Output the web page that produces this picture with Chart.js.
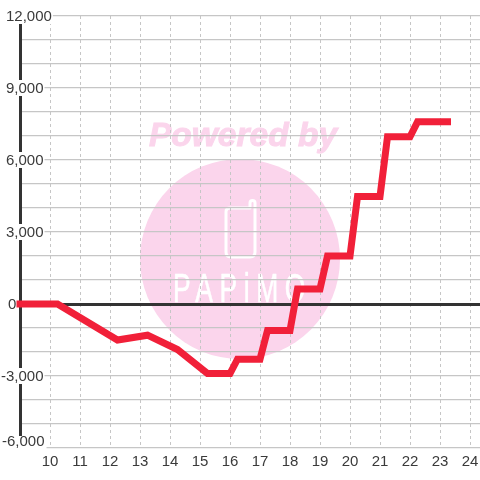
<!DOCTYPE html>
<html>
<head>
<meta charset="utf-8">
<style>html,body{margin:0;padding:0;background:#fff}#w{width:480px;height:480px}</style>
<script src="https://cdn.jsdelivr.net/npm/chart.js@4"></script>
</head>
<body>
<div id="w"><canvas id="c" width="480" height="480"></canvas></div>
<script>
const hours = [9, 10.25, 12.25, 13.25, 14.25, 15.25, 16, 16.25, 17, 17.25, 18, 18.25, 19, 19.25, 20, 20.25, 21, 21.25, 22, 22.25, 23.25];
const balance = [0, 0, -1500, -1300, -1900, -2900, -2900, -2300, -2300, -1100, -1100, 630, 630, 2000, 2000, 4480, 4480, 6970, 6970, 7590, 7590];
const labelledTicks = [12000, 9000, 6000, 3000, 0, -3000, -6000];
const watermarkTop = 'Powered by';
const watermarkBrand = 'PAPiMO';

const INK = '#3a3a3a', GRID = '#c6c6c6', RED = '#f12039', PINK = '#fbd5ec';
const FONT = {family: '"Liberation Sans", Arial, sans-serif', size: 15};

const watermark = {
  id: 'watermark',
  beforeDraw(chart) {
    const g = chart.ctx;
    g.save();
    g.fillStyle = '#ffffff';
    g.fillRect(0, 0, 480, 480);
    g.fillStyle = PINK;
    g.beginPath();
    g.arc(240, 259, 100, 0, Math.PI * 2);
    g.fill();
    g.font = 'italic bold 33.5px "Liberation Sans", Arial, sans-serif';
    g.textAlign = 'left';
    g.textBaseline = 'alphabetic';
    g.fillText(watermarkTop, 149, 146);
    g.strokeStyle = PINK;
    g.lineWidth = 1;
    g.strokeText(watermarkTop, 149, 146);
    g.strokeStyle = '#ffffff';
    g.lineWidth = 3;
    g.lineJoin = 'round';
    g.lineCap = 'round';
    g.beginPath();
    g.moveTo(250, 208);
    g.lineTo(230, 208);
    g.quadraticCurveTo(226, 208, 226, 212);
    g.lineTo(226, 252);
    g.quadraticCurveTo(226, 257, 231, 257);
    g.lineTo(250, 257);
    g.quadraticCurveTo(255, 257, 255, 252);
    g.lineTo(255, 203);
    g.arc(252.5, 203, 2.5, 0, Math.PI, true);
    g.lineTo(250, 208);
    g.stroke();
    g.fillStyle = '#ffffff';
    g.font = '40px "Liberation Sans", Arial, sans-serif';
    g.letterSpacing = '10px';
    g.fillText(watermarkBrand, 173, 302, 139);
    g.strokeStyle = '#ffffff';
    g.lineWidth = 0.6;
    g.strokeText(watermarkBrand, 173, 302, 139);
    g.restore();
  },
  afterLayout(chart) {
    const y = chart.scales.y;
    const items = y._computeLabelItems(chart.chartArea);
    const shift = {'12,000': [6, 17], '0': [8, 305], '-6,000': [2, 442]};
    const ctx = chart.ctx;
    items.forEach(it => {
      const text = it.label;
      ctx.save();
      ctx.font = '15px ' + FONT.family;
      const w = ctx.measureText(text).width;
      ctx.restore();
      const left = shift[text] ? shift[text][0] : 43.5 - w;
      const cy = shift[text] ? shift[text][1] : it.options.translation[1] + 1;
      it.options.translation = [left, cy];
      it.options.textAlign = 'left';
      it.options.textBaseline = 'middle';
      it.options.backdrop = text ? (text === '-6,000'
        ? {left: -1, top: -6, width: w + 3, height: 13, color: '#ffffff'}
        : {left: -1, top: -9, width: w + 2, height: 16, color: '#ffffff'}) : undefined;
    });
    y._labelItems = items;
  }
};

new Chart(document.getElementById('c'), {
  type: 'line',
  data: {
    datasets: [{
      data: hours.map((h, i) => ({x: h, y: balance[i]})),
      borderColor: RED,
      borderWidth: 7,
      borderCapStyle: 'square',
      borderJoinStyle: 'miter',
      pointRadius: 0,
      tension: 0,
      clip: false
    }]
  },
  options: {
    responsive: false,
    animation: false,
    events: [],
    layout: {padding: {top: 16, left: 0, right: 0, bottom: 0}},
    plugins: {legend: {display: false}, title: {display: false}, tooltip: {enabled: false}},
    scales: {
      x: {
        type: 'linear',
        min: 9,
        max: 24.3333,
        afterFit(s) { s.height = 32; s.paddingLeft = 0; s.paddingRight = 0; },
        ticks: {
          stepSize: 1,
          includeBounds: false,
          autoSkip: false,
          maxRotation: 0,
          color: INK,
          font: FONT,
          padding: 5,
          callback: v => (v >= 10 && v <= 24 ? String(v) : '')
        },
        grid: {
          drawTicks: false,
          color: c => (c.tick && c.tick.value >= 10 && c.tick.value <= 24 ? GRID : 'rgba(0,0,0,0)'),
          lineWidth: 1
        },
        border: {display: false, dash: [3, 3]}
      },
      y: {
        type: 'linear',
        min: -6000,
        max: 12000,
        afterFit(s) { s.width = 20; s.paddingTop = 0; s.paddingBottom = 0; },
        ticks: {
          stepSize: 1000,
          autoSkip: false,
          mirror: true,
          color: INK,
          font: FONT,
          padding: 0,
          showLabelBackdrop: true,
          backdropColor: '#ffffff',
          backdropPadding: 0,
          callback: v => (labelledTicks.includes(v) ? v.toLocaleString('en-US') : '')
        },
        grid: {
          drawTicks: false,
          color: c => (c.tick && c.tick.value === 0 ? '#333333' : GRID),
          lineWidth: c => (c.tick && c.tick.value === 0 ? 3 : 1.2)
        },
        border: {display: true, color: '#333333', width: 3}
      }
    }
  },
  plugins: [watermark]
});
</script>
</body>
</html>
